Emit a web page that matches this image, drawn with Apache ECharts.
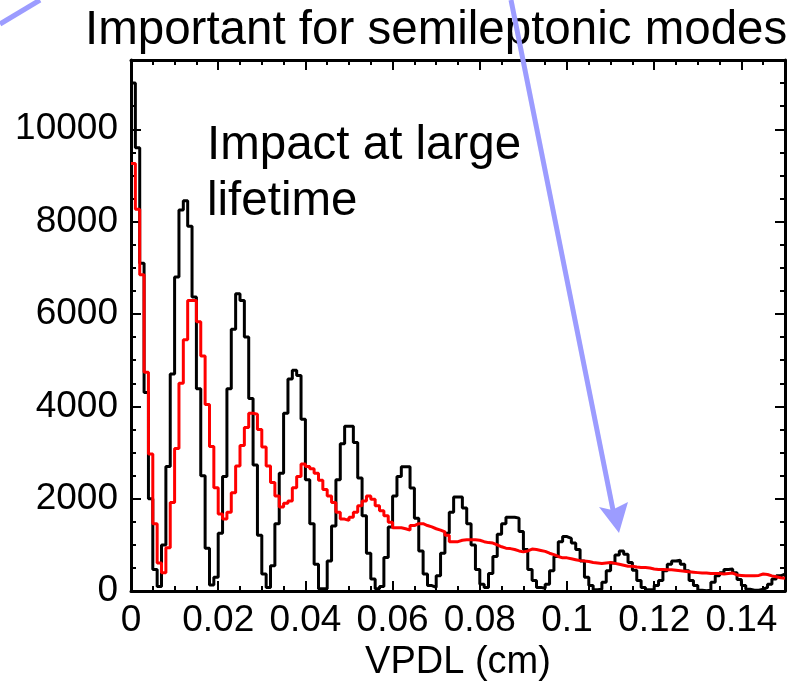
<!DOCTYPE html>
<html>
<head>
<meta charset="utf-8">
<script src="https://cdn.jsdelivr.net/npm/echarts@6/dist/echarts.min.js"></script>
<style>
html, body { margin: 0; padding: 0; background: #fff; }
#chart { width: 801px; height: 687px; }
</style>
</head>
<body>
<div id="chart"></div>
<script>
// histogram bins: 0.001 cm wide, 0 .. 0.15 cm
var binWidth = 0.001;

// black: oscillating VPDL distribution
var blackCounts = [
  11000, 9600, 7100, 4300, 2000, 470, 100, 1000, 2700, 4700,
  6800, 8250, 8450, 7900, 6370, 4380, 2500, 930, 130, 300,
  1250, 2480, 4380, 5670, 6440, 6290, 5500, 4170, 2730, 1210,
  370, 80, 550, 1460, 2550, 3850, 4590, 4780, 4670, 3720,
  2410, 1460, 580, 50, 50, 650, 1410, 2410, 3190, 3570,
  3570, 3220, 2450, 1630, 820, 260, 50, 100, 730, 1390,
  2060, 2480, 2690, 2690, 2230, 1580, 870, 370, 120, 80,
  330, 820, 1250, 1710, 2040, 2040, 1800, 1460, 1000, 470,
  150, 80, 380, 750, 1230, 1460, 1600, 1600, 1580, 1290,
  900, 470, 230, 80, 60, 150, 440, 750, 1070, 1180,
  1140, 1040, 900, 650, 300, 120, 30, 40, 190, 440,
  610, 780, 870, 800, 620, 450, 230, 80, 30, 30,
  120, 230, 440, 580, 650, 670, 580, 440, 230, 120,
  20, 10, 20, 190, 330, 400, 470, 480, 400, 250,
  120, 40, 20, 20, 40, 80, 150, 260, 330, 370
];

// red: smeared distribution
var redCounts = [
  9260, 8270, 6850, 4740, 2970, 1460, 610, 400, 940, 1920,
  3090, 4500, 5440, 6290, 6290, 5830, 5090, 4040, 3130, 2240,
  1670, 1560, 1710, 2130, 2710, 3150, 3540, 3850, 3830, 3500,
  3120, 2710, 2350, 2060, 1820, 1900, 1950, 2240, 2480, 2750,
  2700, 2650, 2550, 2400, 2200, 2060, 1920, 1710, 1560, 1530,
  1600, 1710, 1850, 1950, 2060, 1990, 1850, 1740, 1630, 1490,
  1370, 1370, 1350, 1320, 1420, 1460, 1460, 1420, 1390, 1350,
  1320, 1280, 1210, 1070, 1070, 1100, 1110, 1110, 1110, 1100,
  1070, 1050, 1040, 1000, 960, 930, 920, 900, 870, 850,
  870, 910, 900, 880, 860, 820, 790, 750, 720, 720,
  700, 680, 660, 650, 640, 620, 610, 600, 610, 620,
  600, 580, 560, 540, 540, 520, 510, 510, 500, 480,
  470, 470, 460, 460, 450, 440, 430, 420, 410, 400,
  390, 390, 380, 380, 380, 370, 380, 390, 350, 340,
  330, 330, 330, 340, 370, 360, 330, 310, 290, 280
];

var xMax = 0.15;
var yMax = 11500;
var font = 'Liberation Sans, Arial, Helvetica, sans-serif';

function toSteps(counts) {
  var pts = [];
  for (var i = 0; i < counts.length; i++) {
    pts.push([+(i * binWidth).toFixed(3), counts[i]]);
  }
  pts.push([+(counts.length * binWidth).toFixed(3), counts[counts.length - 1]]);
  return pts;
}

function tickAxis(kind, pos, interval, len, labels) {
  var ax = {
    type: 'value',
    position: pos,
    min: 0,
    max: kind === 'x' ? xMax : yMax,
    interval: interval,
    axisLine: { show: labels, onZero: false, lineStyle: { color: '#000', width: 3 } },
    axisTick: { show: true, inside: true, length: len, lineStyle: { color: '#000', width: 2 } },
    axisLabel: { show: false },
    splitLine: { show: false }
  };
  if (labels && (pos === 'bottom' || pos === 'left')) {
    ax.axisLabel = {
      show: true,
      showMaxLabel: false,
      color: '#000',
      fontFamily: font,
      fontSize: 37,
      margin: pos === 'bottom' ? 11 : 13,
      formatter: function (v) { return String(+v.toFixed(3)); }
    };
  }
  return ax;
}

var xMain = tickAxis('x', 'bottom', 0.02, 10, true);
xMain.name = 'VPDL (cm)';
xMain.nameLocation = 'middle';
xMain.nameGap = 43;
xMain.nameTextStyle = { color: '#000', fontFamily: font, fontSize: 38, verticalAlign: 'top' };

var options = {
  animation: false,
  backgroundColor: '#fff',
  title: {
    text: 'Important for semileptonic modes',
    left: 80,
    top: 2,
    textStyle: { color: '#000', fontFamily: font, fontSize: 47.5, fontWeight: 'normal' }
  },
  grid: { left: 131, right: 16, top: 60, bottom: 83.5, show: false },
  xAxis: [
    xMain,
    tickAxis('x', 'bottom', 0.005, 5, false),
    tickAxis('x', 'top', 0.02, 10, true),
    tickAxis('x', 'top', 0.005, 5, false)
  ],
  yAxis: [
    tickAxis('y', 'left', 2000, 10, true),
    tickAxis('y', 'left', 500, 5, false),
    tickAxis('y', 'right', 2000, 10, true),
    tickAxis('y', 'right', 500, 5, false)
  ],
  series: [
    {
      name: 'black',
      type: 'line',
      step: 'end',
      showSymbol: false,
      data: toSteps(blackCounts),
      lineStyle: { color: '#000', width: 3 },
      itemStyle: { color: '#000' },
      z: 3
    },
    {
      name: 'red',
      type: 'line',
      step: 'end',
      showSymbol: false,
      data: toSteps(redCounts),
      lineStyle: { color: '#ff0000', width: 3 },
      itemStyle: { color: '#ff0000' },
      z: 4
    }
  ],
  graphic: [
    {
      type: 'text',
      left: 207,
      top: 118,
      z: 10,
      style: {
        text: 'Impact at large\nlifetime',
        fill: '#000',
        font: '47.5px ' + font,
        lineHeight: 56
      }
    },
    // blue annotation strokes
    {
      type: 'line',
      z: 20,
      shape: { x1: 0, y1: 24, x2: 40, y2: 0 },
      style: { stroke: '#9c9cff', lineWidth: 5 }
    },
    {
      type: 'line',
      z: 20,
      shape: { x1: 511, y1: 0, x2: 614, y2: 515 },
      style: { stroke: '#9c9cff', lineWidth: 5 }
    },
    {
      type: 'polygon',
      z: 20,
      shape: { points: [[619, 533], [599, 507], [612, 510], [628, 502]] },
      style: { fill: '#9c9cff' }
    }
  ]
};

var chart = echarts.init(document.getElementById('chart'));
chart.setOption(options);
</script>
</body>
</html>
